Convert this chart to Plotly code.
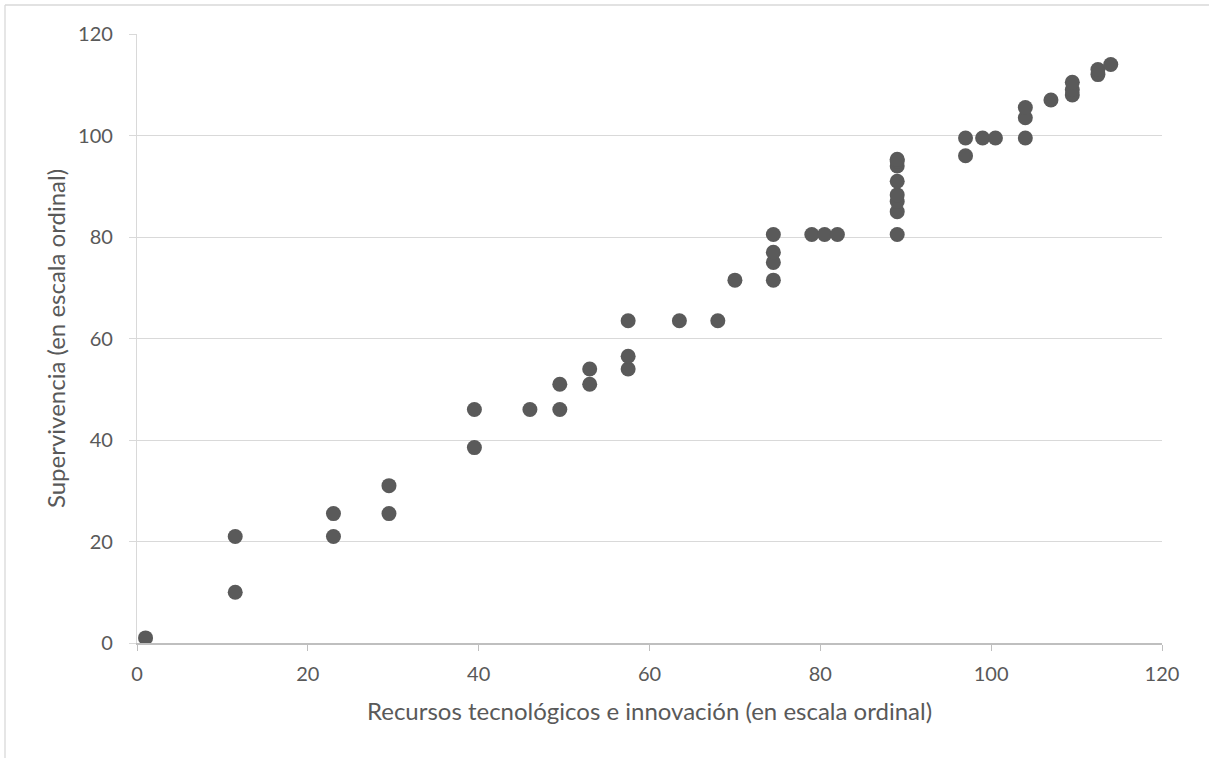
import plotly.graph_objects as go

recursos = [1, 11.5, 11.5, 23, 23, 29.5, 29.5, 39.5, 39.5, 46, 49.5, 49.5, 53, 53,
            57.5, 57.5, 57.5, 63.5, 68, 70, 74.5, 74.5, 74.5, 74.5,
            79, 80.5, 82, 89, 89, 89, 89, 89, 89, 89, 89,
            97, 97, 99, 100.5, 104, 104, 104, 107, 109.5, 109.5, 109.5,
            112.5, 112.5, 114]
supervivencia = [1, 10, 21, 21, 25.5, 25.5, 31, 38.5, 46, 46, 46, 51, 51, 54,
                 54, 56.5, 63.5, 63.5, 63.5, 71.5, 71.5, 75, 77, 80.5,
                 80.5, 80.5, 80.5, 80.5, 85, 87, 88.3, 91, 94, 95, 95.3,
                 96, 99.5, 99.5, 99.5, 99.5, 103.5, 105.5, 107, 108, 109, 110.5,
                 112, 113, 114]

x_ticks = [0, 20, 40, 60, 80, 100, 120]
y_ticks = [0, 20, 40, 60, 80, 100, 120]
x_title = "Recursos tecnológicos e innovación (en escala ordinal)"
y_title = "Supervivencia (en escala ordinal)"

FONT = "Lato"
TXT = "#595959"

fig = go.Figure()
fig.add_trace(go.Scatter(
    x=recursos, y=supervivencia, mode="markers",
    marker=dict(size=15, color="#5a5a5a", line=dict(width=0)),
    hoverinfo="x+y", showlegend=False,
))

ml, mr, mt, mb = 137, 47, 34, 115
W, H = 1209, 758
pw, ph = W - ml - mr, H - mt - mb
bx = (5 - ml) / pw
by = (H - mb - 5) / ph

fig.update_layout(
    width=W, height=H,
    margin=dict(l=ml, r=mr, t=mt, b=mb),
    paper_bgcolor="white", plot_bgcolor="white",
    font=dict(family=FONT, color=TXT, size=20),
    xaxis=dict(
        range=[0, 120], tickvals=x_ticks, ticktext=[str(v) for v in x_ticks],
        showgrid=False, zeroline=False,
        showline=True, linecolor="#bfbfbf", linewidth=1.5,
        ticks="outside", ticklen=6, tickcolor="#bfbfbf", tickwidth=1,
        ticklabelstandoff=6,
        tickfont=dict(size=20, color=TXT, family=FONT),
        title=dict(text=x_title, font=dict(size=24, color=TXT, family=FONT), standoff=19),
    ),
    yaxis=dict(
        range=[0, 120], tickvals=y_ticks, ticktext=[str(v) for v in y_ticks],
        showgrid=True, gridcolor="#d9d9d9", gridwidth=1.3,
        zeroline=False,
        showline=True, linecolor="#d9d9d9", linewidth=1.3,
        ticks="outside", ticklen=7, tickcolor="#d9d9d9", tickwidth=1,
        ticklabelstandoff=12,
        tickfont=dict(size=20, color=TXT, family=FONT),
        title=dict(text=y_title, font=dict(size=24, color=TXT, family=FONT), standoff=5),
    ),
    shapes=[
        dict(type="line", xref="paper", yref="paper", x0=bx, x1=1.2, y0=by, y1=by,
             line=dict(color="#d9d9d9", width=1.3)),
        dict(type="line", xref="paper", yref="paper", x0=bx, x1=bx, y0=by, y1=-0.3,
             line=dict(color="#d9d9d9", width=1.3)),
    ],
)

fig.write_html("out.html", config={"displayModeBar": False},
               post_script="document.body.style.margin='0';document.body.style.overflow='hidden';")
